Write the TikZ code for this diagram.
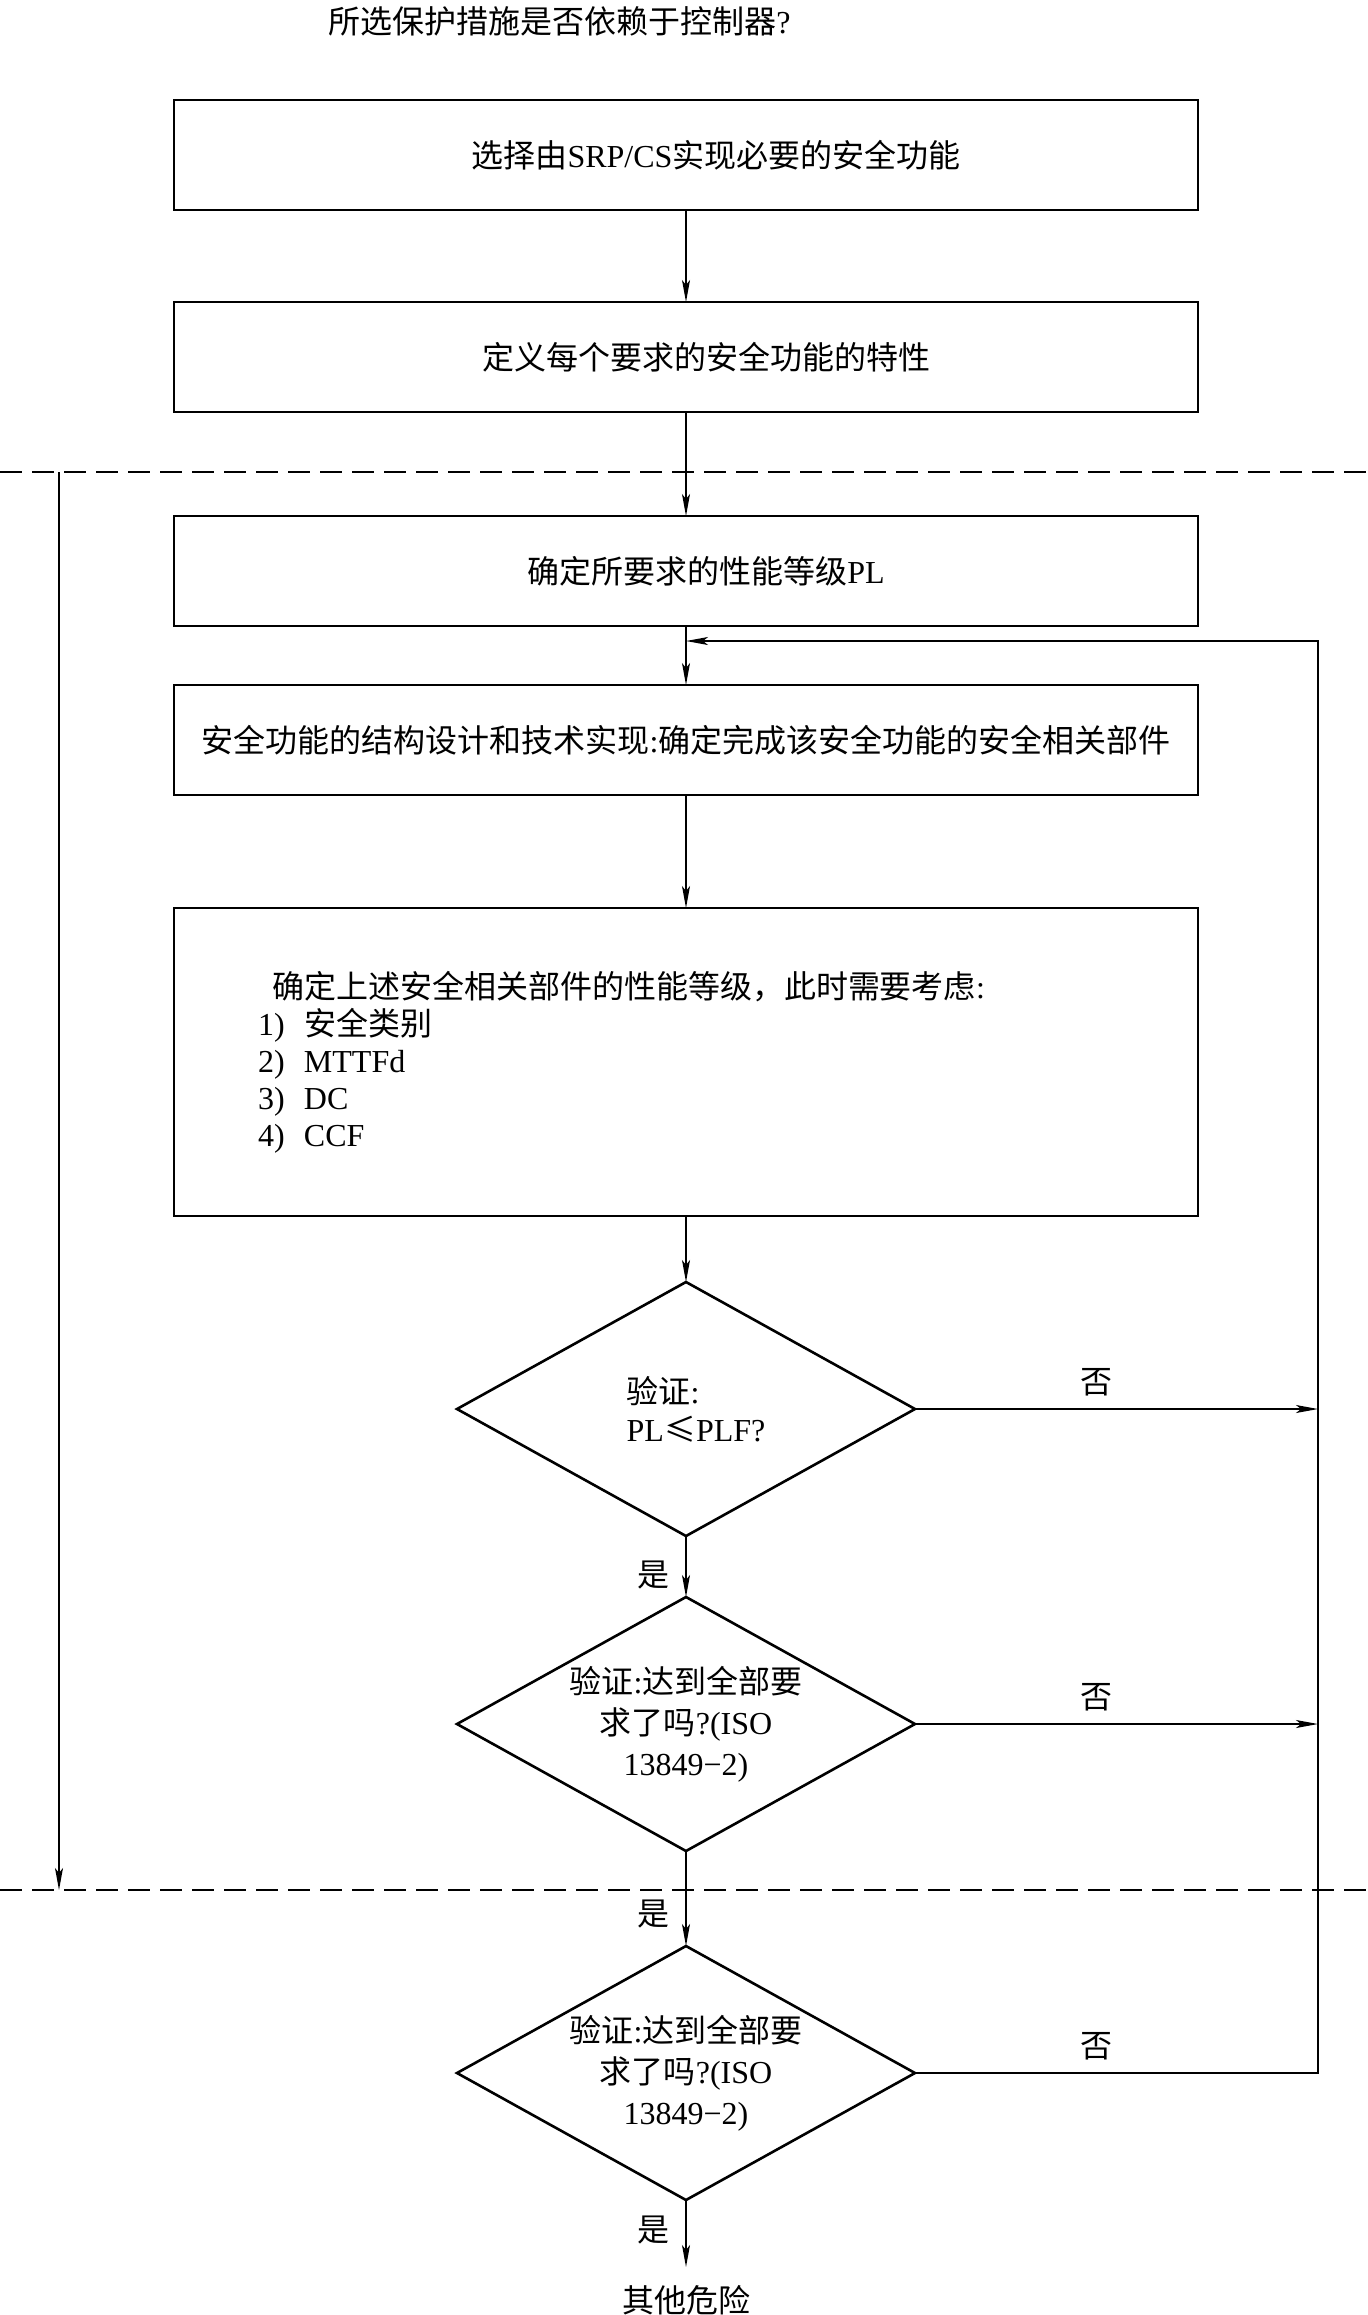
\documentclass[tikz,border=0pt]{standalone}
\usepackage{fontspec}
\setmainfont{Liberation Serif}
\newfontfamily\cjk{Noto Sans CJK SC}
\newcommand{\zh}[1]{{\cjk #1}}
\usepackage{tikz}
\usetikzlibrary{shapes.geometric, arrows.meta, positioning}

\tikzset{
    box/.style={rectangle, draw, line width=1.3pt, outer sep=0pt, minimum width=512pt, minimum height=55pt, align=center},
    decision/.style={diamond, draw, line width=1.3pt, outer sep=0pt, minimum width=229pt, minimum height=127pt, aspect=1.8, inner sep=0pt, align=center},
    flow/.style={-{Stealth[length=11pt, width=4pt, inset=2.5pt]}, line width=0.7pt},
    zone/.style={line width=0.7pt, dash pattern=on 11pt off 5pt},
    yeslabel/.style={left=8pt, inner sep=0pt},
    nolabel/.style={above=6pt, inner sep=0pt, pos=0.45}
}

\begin{document}
\begin{tikzpicture}[x=1pt, y=1pt, font=\fontsize{16pt}{20.5pt}\selectfont]
    \useasboundingbox (0,0) rectangle (684,-1157.5);

    % Question
    \node[anchor=west, inner sep=0pt] (question) at (164,-10.5) {\zh{所选保护措施是否依赖于控制器}?};

    % Boxes
    \node[box] (select) at (343,-77.5) {\hspace*{30pt}\zh{选择由}SRP/CS\zh{实现必要的安全功能}};
    \node[box, below=46pt of select] (define) {\hspace*{20pt}\zh{定义每个要求的安全功能的特性}};
    \node[box, below=52pt of define] (plr) {\hspace*{20pt}\zh{确定所要求的性能等级}PL};
    \node[box, below=29.5pt of plr] (design) {\zh{安全功能的结构设计和技术实现}:\zh{确定完成该安全功能的安全相关部件}};
    \node[box, below=56.5pt of design, minimum height=154pt, text width=428pt, inner xsep=42pt, align=left, font=\fontsize{16pt}{18.5pt}\selectfont] (evaluate) {\hspace*{7pt}\zh{确定上述安全相关部件的性能等级，此时需要考虑}:\\
        \makebox[23pt][l]{1)}\zh{安全类别}\\
        \makebox[23pt][l]{2)}MTTFd\\
        \makebox[23pt][l]{3)}DC\\
        \makebox[23pt][l]{4)}CCF};

    % Decisions
    \node[decision, below=33pt of evaluate, align=left, font=\fontsize{16pt}{19pt}\selectfont] (check1) {\hspace*{10pt}\zh{验证}:\\\hspace*{10pt}PL\zh{≤}PLF?};
    \node[decision, below=30.5pt of check1] (check2) {\zh{验证}:\zh{达到全部要}\\\zh{求了吗}?(ISO\\13849−2)};
    \node[decision, below=47.5pt of check2] (check3) {\zh{验证}:\zh{达到全部要}\\\zh{求了吗}?(ISO\\13849−2)};
    \node[below=33.5pt of check3, inner sep=0pt, outer sep=9pt] (other) {\zh{其他危险}};

    % Dashed borders
    \draw[zone] (0,-236) -- (684,-236);
    \draw[zone] (0,-945) -- (684,-945);
    \coordinate (ltop) at (29.5,-236);
    \coordinate (lbot) at (29.5,-945);
    \draw[flow] (ltop) -- (lbot);

    % Main flow
    \draw[flow] (select) -- (define);
    \draw[flow] (define) -- (plr);
    \draw[flow] (plr) -- (design);
    \draw[flow] (design) -- (evaluate);
    \draw[flow] (evaluate) -- (check1);
    \draw[flow] (check1) -- node[yeslabel, pos=0.64] {\zh{是}} (check2);
    \draw[flow] (check2) -- node[yeslabel, pos=0.66] {\zh{是}} (check3);
    \draw[flow] (check3) -- node[yeslabel, pos=0.45] {\zh{是}} (other);

    % Feedback
    \coordinate (rail) at (659,0);
    \coordinate[below=7.5pt of plr] (merge);
    \draw[flow] (check1.east) -- node[nolabel] {\zh{否}} (check1.east -| rail);
    \draw[flow] (check2.east) -- node[nolabel] {\zh{否}} (check2.east -| rail);
    \draw[flow] (check3.east) -- node[nolabel] {\zh{否}} (check3.east -| rail) -- (rail |- merge) -- (merge);
\end{tikzpicture}
\end{document}
